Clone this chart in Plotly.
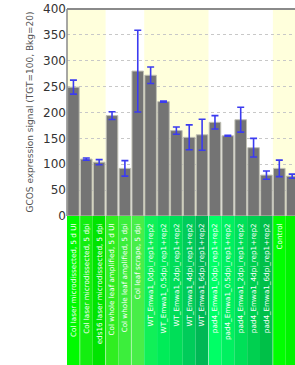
import plotly.graph_objects as go

categories = [
    "Col laser microdissected, 5 d UI",
    "Col laser microdissected, 5 dpi",
    "eds16 laser microdissected, 5 dpi",
    "Col whole leaf amplified, 5 d UI",
    "Col whole leaf amplified, 5 dpi",
    "Col leaf scrape, 5 dpi",
    "WT_Emwa1_0dpi_rep1+rep2",
    "WT_Emwa1_0.5dpi_rep1+rep2",
    "WT_Emwa1_2dpi_rep1+rep2",
    "WT_Emwa1_4dpi_rep1+rep2",
    "WT_Emwa1_6dpi_rep1+rep2",
    "pad4_Emwa1_0dpi_rep1+rep2",
    "pad4_Emwa1_0.5dpi_rep1+rep2",
    "pad4_Emwa1_2dpi_rep1+rep2",
    "pad4_Emwa1_4dpi_rep1+rep2",
    "pad4_Emwa1_6dpi_rep1+rep2",
    "Control",
    "Aphid infected",
]
values = [249, 110, 104, 194, 92, 280, 272, 221, 165, 152, 157, 181, 155, 186, 132, 79, 92, 77]
errors = [13.5, 2, 5, 7.5, 15, 79, 16, 1, 7, 24, 30, 13, 1, 24, 18, 8, 16, 4]
label_colors = [
    "#00fa00", "#14ee10", "#00e400", "#30ee20", "#3cee3c", "#48ee48",
    "#10f058", "#00ec58", "#00de58", "#00cc5a", "#00b855",
    "#00ff66", "#00f060", "#00e058", "#00d050", "#00c048",
    "#00ff00", "#00f400",
]
bands = [(0, 2), (6, 10), (16, 17)]  # index ranges with yellow background
separators = [0.5, 2.5, 4.5, 10.5, 15.5]

fig = go.Figure()
fig.add_trace(go.Bar(
    x=list(range(len(categories))), y=values,
    marker=dict(color="#747474", line=dict(color="#c0c0b4", width=1)),
    error_y=dict(type="data", array=errors, color="#3b3bf0", thickness=1.6, width=3.5),
    hoverinfo="skip",
))

shapes = []
for a, b in bands:
    shapes.append(dict(type="rect", xref="x", yref="paper", x0=a - 0.5, x1=b + 0.5, y0=0, y1=1,
                       fillcolor="#ffffdc", line=dict(width=0), layer="below"))
for i, c in enumerate(label_colors):
    shapes.append(dict(type="rect", xref="x", yref="paper", x0=i - 0.5, x1=i + 0.5, y0=-1.0, y1=0,
                       fillcolor=c, line=dict(width=0), layer="below"))
for s in separators:
    shapes.append(dict(type="line", xref="x", yref="paper", x0=s, x1=s, y0=-1.0, y1=0,
                       line=dict(color="rgba(255,255,255,0.45)", width=1), layer="below"))
shapes.append(dict(type="line", xref="paper", yref="paper", x0=0, x1=1, y0=1, y1=1,
                   line=dict(color="#8a8a8a", width=2)))
shapes.append(dict(type="line", xref="paper", yref="paper", x0=0, x1=0, y0=0, y1=1,
                   line=dict(color="#8a8a8a", width=1.5)))

fig.update_layout(
    width=295, height=365,
    margin=dict(l=67, r=0, t=9, b=149),
    paper_bgcolor="white", plot_bgcolor="white",
    bargap=0.1, showlegend=False,
    shapes=shapes,
    font=dict(family="DejaVu Sans"),
    xaxis=dict(
        range=[-0.5, 17.22], tickmode="array",
        tickvals=list(range(len(categories))), ticktext=categories,
        tickangle=-90, tickfont=dict(color="white", size=7.2, family="DejaVu Sans"),
        showgrid=False, zeroline=False, showline=False, ticks="",
        ticklabelstandoff=5, automargin=False,
    ),
    yaxis=dict(
        range=[0, 400], dtick=50, showgrid=True, gridcolor="#c8c8c8", griddash="dot",
        gridwidth=1, zeroline=False, showline=False, ticks="",
        tickfont=dict(color="#333333", size=12, family="DejaVu Sans"),
        automargin=False,
    ),
    annotations=[dict(
        text="GCOS expression signal (TGT=100, Bkg=20)", textangle=-90,
        xref="paper", yref="paper", x=0, y=0.5, xanchor="center", yanchor="middle",
        xshift=-38, showarrow=False, font=dict(size=9, color="#555555", family="DejaVu Sans"),
    )],
)

fig.write_html(
    "out.html",
    config={"displayModeBar": False, "staticPlot": True},
    post_script="document.body.style.margin='0';document.body.style.overflow='hidden';",
)
